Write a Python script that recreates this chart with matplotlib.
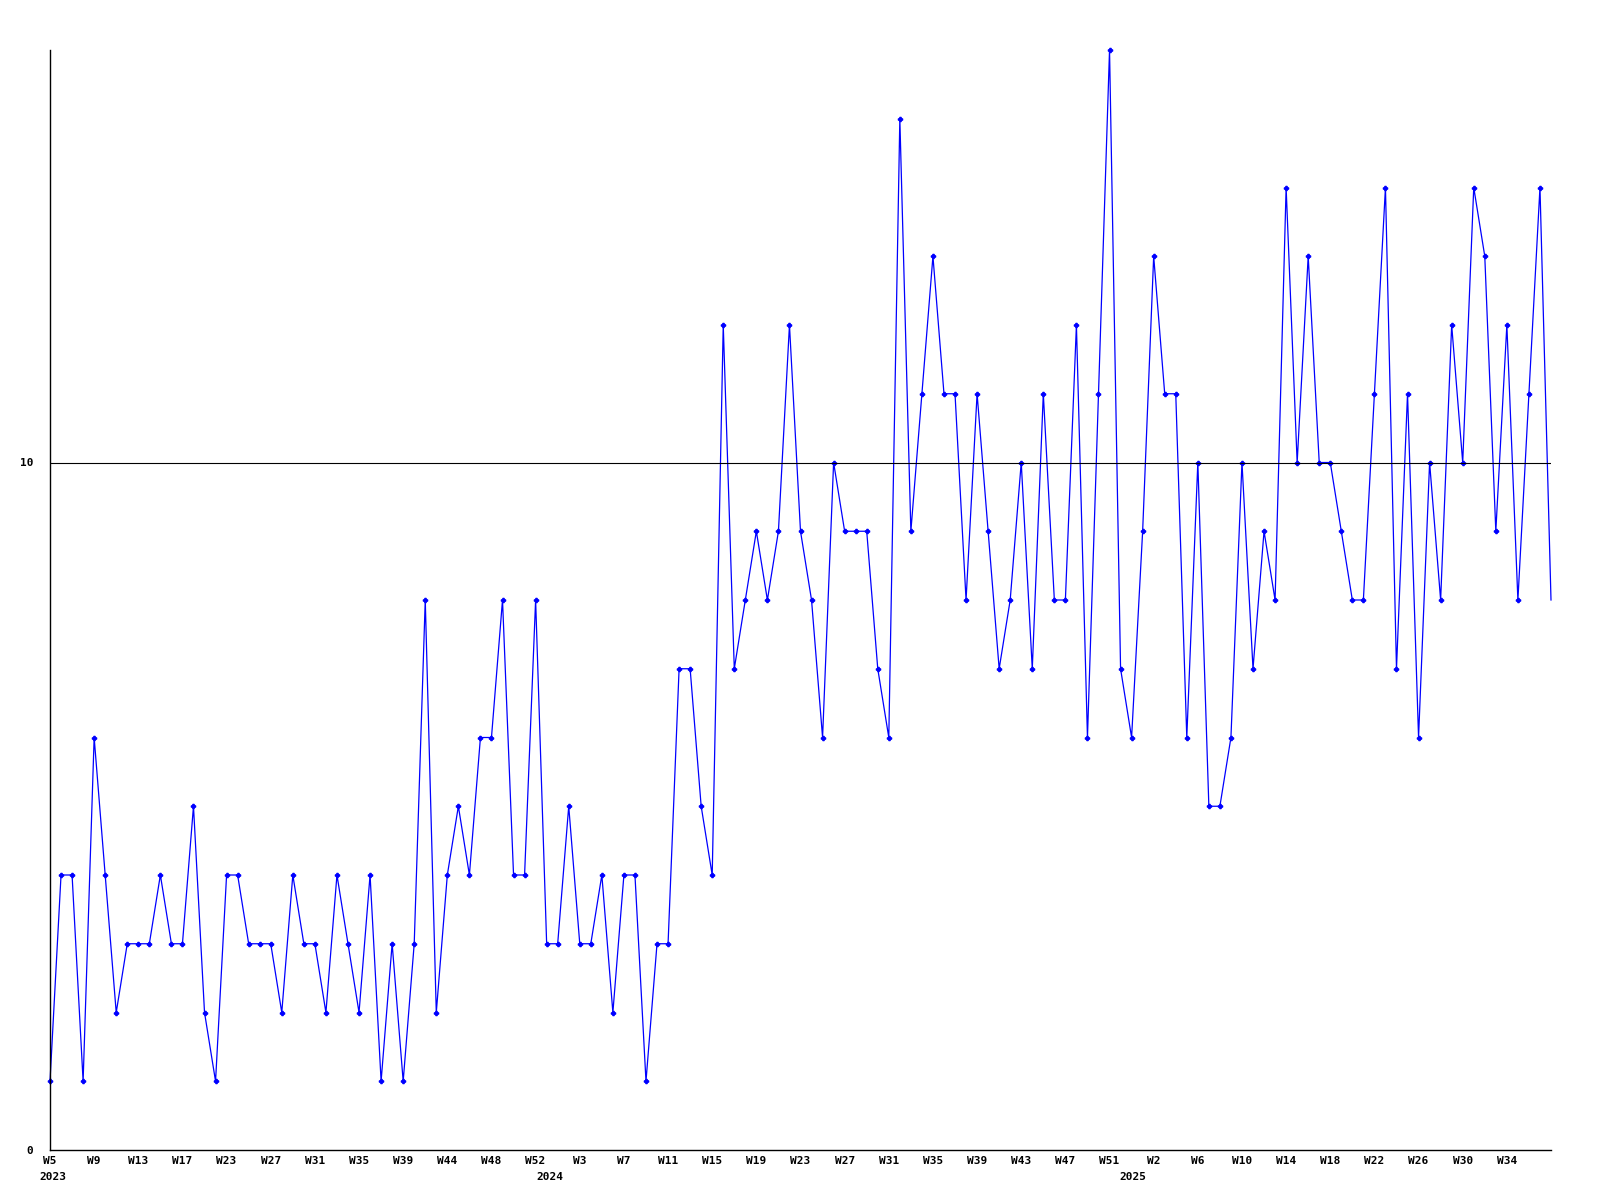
import matplotlib
matplotlib.use("Agg")
import matplotlib.pyplot as plt
import matplotlib.transforms as mtransforms

# weekly values, 2023 W5 .. 2025 W37
values = [1, 4, 4, 1, 6, 4, 2, 3, 3, 3, 4, 3, 3, 5, 2, 1, 4, 4, 3, 3,
          3, 2, 4, 3, 3, 2, 4, 3, 2, 4, 1, 3, 1, 3, 8, 2, 4, 5, 4, 6,
          6, 8, 4, 4, 8, 3, 3, 5, 3, 3, 4, 2, 4, 4, 1, 3, 3, 7, 7, 5,
          4, 12, 7, 8, 9, 8, 9, 12, 9, 8, 6, 10, 9, 9, 9, 7, 6, 15, 9, 11,
          13, 11, 11, 8, 11, 9, 7, 8, 10, 7, 11, 8, 8, 12, 6, 11, 16, 7, 6, 9,
          13, 11, 11, 6, 10, 5, 5, 6, 10, 7, 9, 8, 14, 10, 13, 10, 10, 9, 8, 8,
          11, 14, 7, 11, 6, 10, 8, 12, 10, 14, 13, 9, 12, 8, 11, 14, 8]

week_labels = ['W5', 'W9', 'W13', 'W17', 'W23', 'W27', 'W31', 'W35', 'W39',
               'W44', 'W48', 'W52', 'W3', 'W7', 'W11', 'W15', 'W19', 'W23',
               'W27', 'W31', 'W35', 'W39', 'W43', 'W47', 'W51', 'W2', 'W6',
               'W10', 'W14', 'W18', 'W22', 'W26', 'W30', 'W34']
year_labels = ['2023', '2024', '2025']
year_pos = [0.3, 45.3, 98.1]
ref_level = 10

x = list(range(len(values)))
font = 'DejaVu Sans Mono'

fig = plt.figure(figsize=(16, 12), dpi=100)
ax = fig.add_axes([50/1600, 50/1200, 1501/1600, 1100/1200])

ax.plot(x, values, color='#0000ff', lw=0.9, marker='P', markersize=3.0,
        markevery=list(range(len(values) - 1)), clip_on=False)
ax.axhline(ref_level, color='black', lw=0.8)

ax.set_xlim(0, len(values) - 1)
ax.set_ylim(0, 16)

for s in ['top', 'right']:
    ax.spines[s].set_visible(False)
for s in ['left', 'bottom']:
    ax.spines[s].set_linewidth(1.0)
    ax.spines[s].set_color('black')

ax.set_yticks([0, 10])
ax.set_yticklabels(['0', '10'], fontfamily=font, fontweight='bold', fontsize=8)
ax.set_xticks(x[0:4 * len(week_labels):4])
ax.set_xticklabels(week_labels, fontfamily=font, fontweight='bold', fontsize=8)
ax.tick_params(axis='y', length=0, pad=12)
ax.tick_params(axis='x', length=0, pad=4)

trans = mtransforms.blended_transform_factory(ax.transData, ax.transAxes)
for lab, p in zip(year_labels, year_pos):
    ax.text(p, -0.0245, lab, transform=trans, ha='center', va='center',
            fontfamily=font, fontweight='bold', fontsize=8)

fig.savefig('out.png', dpi=100)
